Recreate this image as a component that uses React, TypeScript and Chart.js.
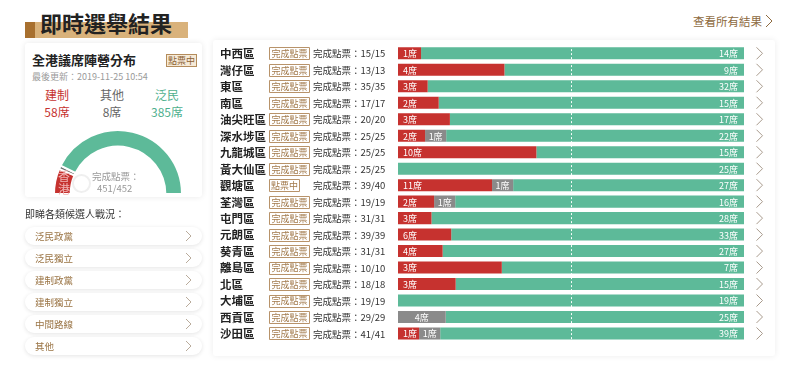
import React, { useEffect, useRef } from 'react';
import { Chart, registerables } from 'chart.js';

Chart.register(...registerables);

// ---------- data ----------
const districts = ['中西區', '灣仔區', '東區', '南區', '油尖旺區', '深水埗區', '九龍城區', '黃大仙區', '觀塘區', '荃灣區', '屯門區', '元朗區', '葵青區', '離島區', '北區', '大埔區', '西貢區', '沙田區'];
const statusLabels = ['完成點票', '完成點票', '完成點票', '完成點票', '完成點票', '完成點票', '完成點票', '完成點票', '點票中', '完成點票', '完成點票', '完成點票', '完成點票', '完成點票', '完成點票', '完成點票', '完成點票', '完成點票'];
const countedLabels = ['15/15', '13/13', '35/35', '17/17', '20/20', '25/25', '25/25', '25/25', '39/40', '19/19', '31/31', '39/39', '31/31', '10/10', '18/18', '19/19', '29/29', '41/41'];
const proBeijingSeats = [1, 4, 3, 2, 3, 2, 10, 0, 11, 2, 3, 6, 4, 3, 3, 0, 0, 1];
const otherSeats = [0, 0, 0, 0, 0, 1, 0, 0, 1, 1, 0, 0, 0, 0, 0, 0, 4, 1];
const democratSeats = [14, 9, 32, 15, 17, 22, 15, 25, 27, 16, 28, 33, 27, 7, 15, 19, 25, 39];
const campNames = ['建制', '其他', '泛民'];
const campTotals = [58, 8, 385];
const countedTotal = '451/452';
const lastUpdate = '最後更新：2019-11-25 10:54';
const candidateGroups = ['泛民政黨', '泛民獨立', '建制政黨', '建制獨立', '中間路線', '其他'];

// ---------- style ----------
const RED = '#c6322f';
const GREY = '#8a8a8a';
const GREEN = '#5dba99';
const BROWN = '#8d6a40';
const FONT = '"Noto Sans CJK TC", "Noto Sans CJK SC", "Noto Sans", sans-serif';
const MIN_FRAC = 0.061; // minimum visible share of a non-empty segment

function displayShares(rowIndex: number): number[] {
  const row = [proBeijingSeats[rowIndex], otherSeats[rowIndex], democratSeats[rowIndex]];
  const total = row.reduce((a, b) => a + b, 0);
  const small = row.map((v) => v > 0 && v / total < MIN_FRAC);
  const nSmall = small.filter(Boolean).length;
  const bigTotal = row.reduce((a, v, i) => (small[i] ? a : a + v), 0);
  const rest = 1 - nSmall * MIN_FRAC;
  return row.map((v, i) => (v === 0 ? 0 : small[i] ? MIN_FRAC * 100 : (v / bigTotal) * rest * 100));
}

const seatSeries = [proBeijingSeats, otherSeats, democratSeats];

const Chevron = ({ w = 7, h = 12, color = '#a89a8c' }: { w?: number; h?: number; color?: string }) => (
  <svg width={w + 2} height={h + 2} style={{ display: 'block' }}>
    <polyline points={`1,1 ${w},${(h + 2) / 2} 1,${h + 1}`} fill="none" stroke={color} strokeWidth={1} />
  </svg>
);

export default function App() {
  const barRef = useRef<HTMLCanvasElement | null>(null);
  const gaugeRef = useRef<HTMLCanvasElement | null>(null);

  useEffect(() => {
    const shares = districts.map((_, i) => displayShares(i));

    const barLabels = {
      id: 'barLabels',
      afterDatasetsDraw(chart: any) {
        const ctx = chart.ctx as CanvasRenderingContext2D;
        const xs = chart.scales.x;
        const area = chart.chartArea;
        ctx.save();
        // dashed mid line
        ctx.strokeStyle = 'rgba(255,255,255,0.95)';
        ctx.lineWidth = 1;
        ctx.setLineDash([2, 2]);
        const mx = Math.round(xs.getPixelForValue(50)) + 0.5;
        ctx.beginPath();
        ctx.moveTo(mx, area.top);
        ctx.lineTo(mx, area.bottom);
        ctx.stroke();
        ctx.setLineDash([]);
        // segment labels
        ctx.font = `9px ${FONT}`;
        ctx.fillStyle = '#fff';
        ctx.textBaseline = 'middle';
        chart.data.datasets.forEach((_ds: any, di: number) => {
          const meta = chart.getDatasetMeta(di);
          meta.data.forEach((el: any, i: number) => {
            const seats = seatSeries[di][i];
            if (!seats) return;
            const p = el.getProps(['x', 'base', 'y'], true);
            const left = Math.min(p.x, p.base);
            const right = Math.max(p.x, p.base);
            const text = `${seats}席`;
            if (di === 0) {
              ctx.textAlign = 'left';
              ctx.fillText(text, left + 5, p.y + 0.5);
            } else if (di === 1) {
              ctx.textAlign = 'center';
              ctx.fillText(text, (left + right) / 2, p.y + 0.5);
            } else {
              ctx.textAlign = 'right';
              ctx.fillText(text, right - 6, p.y + 0.5);
            }
          });
        });
        ctx.restore();
      },
      afterDraw(chart: any) {
        const ctx = chart.ctx as CanvasRenderingContext2D;
        const ys = chart.scales.y;
        ctx.save();
        ctx.textBaseline = 'middle';
        districts.forEach((name, i) => {
          const y = ys.getPixelForValue(i);
          ctx.textAlign = 'left';
          ctx.fillStyle = '#222';
          ctx.font = `bold 11.5px ${FONT}`;
          ctx.fillText(name, 7, y + 0.5);
          // badge
          const status = statusLabels[i];
          const bw = status.length === 4 ? 40 : 30;
          ctx.strokeStyle = '#b8936a';
          ctx.lineWidth = 1;
          ctx.fillStyle = '#fff';
          ctx.beginPath();
          ctx.rect(56.5, Math.round(y - 6) + 0.5, bw, 12);
          ctx.fill();
          ctx.stroke();
          ctx.fillStyle = '#a27a4c';
          ctx.font = `9px ${FONT}`;
          ctx.textAlign = 'center';
          ctx.fillText(status, 56.5 + bw / 2, y + 0.5);
          // counted
          ctx.textAlign = 'left';
          ctx.fillStyle = '#333';
          ctx.font = `9.5px ${FONT}`;
          ctx.fillText(`完成點票：${countedLabels[i]}`, 100, y + 0.5);
          // chevron
          ctx.strokeStyle = '#a89a8c';
          ctx.beginPath();
          ctx.moveTo(543.5, y - 6);
          ctx.lineTo(549.5, y);
          ctx.lineTo(543.5, y + 6);
          ctx.stroke();
        });
        ctx.restore();
      },
    };

    const bar = new Chart(barRef.current!, {
      type: 'bar',
      data: {
        labels: districts,
        datasets: campNames.map((name, di) => ({
          label: name,
          data: shares.map((s) => s[di]),
          backgroundColor: [RED, GREY, GREEN][di],
          borderWidth: 0,
          barPercentage: 0.73,
          categoryPercentage: 1,
        })),
      },
      options: {
        indexAxis: 'y',
        animation: false,
        responsive: false,
        maintainAspectRatio: false,
        layout: { padding: { left: 185, right: 31, top: 5.1, bottom: 14.3 } },
        scales: {
          x: { stacked: true, min: 0, max: 100, display: false },
          y: { stacked: true, display: false },
        },
        plugins: { legend: { display: false }, tooltip: { enabled: false } },
      },
      plugins: [barLabels],
    } as any);

    const gauge = new Chart(gaugeRef.current!, {
      type: 'doughnut',
      data: {
        labels: campNames,
        datasets: [
          {
            data: campTotals,
            backgroundColor: [RED, '#6e6e6e', GREEN],
            borderColor: '#fff',
            borderWidth: 2,
          },
        ],
      },
      options: {
        animation: false,
        responsive: false,
        maintainAspectRatio: false,
        rotation: -90,
        circumference: 180,
        cutout: '74%',
        layout: { padding: 0 },
        plugins: { legend: { display: false }, tooltip: { enabled: false } },
      },
    } as any);

    return () => {
      bar.destroy();
      gauge.destroy();
    };
  }, []);

  const abs = (s: React.CSSProperties): React.CSSProperties => ({ position: 'absolute', ...s });

  return (
    <div
      style={{
        position: 'absolute',
        left: 0,
        top: 0,
        width: 800,
        height: 366,
        overflow: 'hidden',
        background: '#fff',
        fontFamily: FONT,
      }}
    >
      {/* title */}
      <div style={abs({ left: 25, top: 22, width: 163, height: 16, background: '#d9b27b' })} />
      <div style={abs({ left: 25, top: 22, width: 10, height: 16, background: '#a8702f' })} />
      <div style={abs({ left: 40, top: 9, fontSize: 22, lineHeight: '26px', fontWeight: 700, color: '#222', letterSpacing: 0 })}>即時選舉結果</div>

      {/* link */}
      <div style={abs({ left: 693, top: 13, fontSize: 11.5, lineHeight: '16px', color: BROWN })}>查看所有結果</div>
      <div style={abs({ left: 765, top: 14 })}>
        <Chevron w={7} h={12} color={BROWN} />
      </div>

      {/* left card */}
      <div
        style={abs({
          left: 25,
          top: 43,
          width: 177,
          height: 154,
          background: '#fff',
          boxShadow: '0 0 6px rgba(0,0,0,0.09)',
          borderRadius: 3,
          overflow: 'hidden',
        })}
      >
        <div style={abs({ left: 7, top: 8, fontSize: 13, lineHeight: '18px', fontWeight: 700, color: '#222' })}>全港議席陣營分布</div>
        <div
          style={abs({
            left: 141,
            top: 11,
            width: 29,
            height: 11,
            border: '1px solid #b48c5c',
            background: '#f6ead7',
            fontSize: 9,
            lineHeight: '11px',
            textAlign: 'center',
            color: '#8c6234',
          })}
        >
          點票中
        </div>
        <div style={abs({ left: 7, top: 27, fontSize: 9, lineHeight: '14px', color: '#9a9a9a' })}>{lastUpdate}</div>
        {campNames.map((n, i) => (
          <React.Fragment key={n}>
            <div
              style={abs({
                left: [32, 87, 142][i] - 30,
                width: 60,
                top: 44,
                fontSize: 12,
                lineHeight: '16px',
                textAlign: 'center',
                color: [RED, '#666', '#4fb08e'][i],
              })}
            >
              {n}
            </div>
            <div
              style={abs({
                left: [32, 87, 142][i] - 30,
                width: 60,
                top: 61,
                fontSize: 12,
                lineHeight: '16px',
                textAlign: 'center',
                color: [RED, '#666', '#4fb08e'][i],
              })}
            >
              {campTotals[i]}席
            </div>
          </React.Fragment>
        ))}
        <canvas ref={gaugeRef} width={132} height={66} style={abs({ left: 27, top: 86, width: 132, height: 66 })} />
        <div style={abs({ left: 32, top: 126, fontSize: 12, lineHeight: '13px', color: '#f0b4b4', width: 14, textAlign: 'center' })}>
          香<br />港
        </div>
        <div style={abs({ left: 47, top: 131, width: 15, height: 15, borderRadius: '50%', border: '2px solid #efefef' })} />
        <div style={abs({ left: 67, top: 126, fontSize: 9.5, lineHeight: '14px', color: '#999' })}>完成點票：</div>
        <div style={abs({ left: 72, top: 138, fontSize: 9.5, lineHeight: '14px', color: '#999' })}>{countedTotal}</div>
      </div>

      {/* candidate groups */}
      <div style={abs({ left: 25, top: 207, fontSize: 10, lineHeight: '14px', color: '#333' })}>即睇各類候選人戰況：</div>
      {candidateGroups.map((g, i) => (
        <div
          key={g}
          style={abs({
            left: 25,
            top: 226.5 + i * 22,
            width: 177,
            height: 18,
            borderRadius: 9,
            background: '#fff',
            boxShadow: '0 1px 4px rgba(0,0,0,0.11)',
          })}
        >
          <div style={abs({ left: 10, top: 2, fontSize: 9.5, lineHeight: '14px', color: '#9a7444' })}>{g}</div>
          <div style={abs({ left: 160, top: 3 })}>
            <Chevron w={6} h={10} color="#b9ab9b" />
          </div>
        </div>
      ))}

      {/* bars panel */}
      <div
        style={abs({
          left: 213,
          top: 40,
          width: 562,
          height: 316,
          background: '#fff',
          boxShadow: '0 0 6px rgba(0,0,0,0.08)',
          borderRadius: 3,
        })}
      >
        <canvas ref={barRef} width={562} height={316} style={abs({ left: 0, top: 0, width: 562, height: 316 })} />
      </div>
    </div>
  );
}
